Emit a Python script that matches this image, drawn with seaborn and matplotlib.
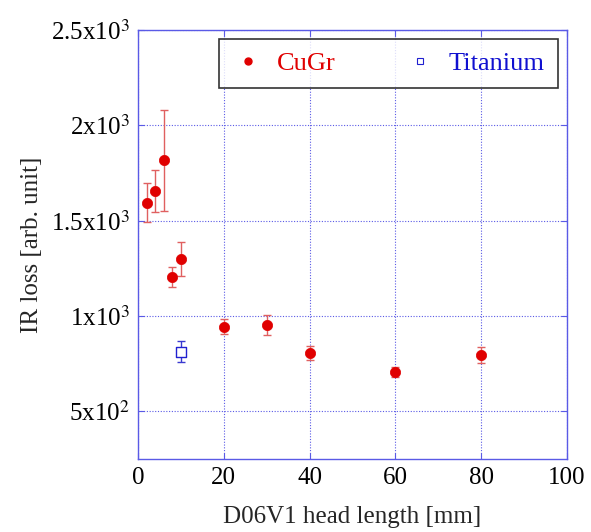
import matplotlib
matplotlib.use("Agg")
import matplotlib.pyplot as plt
import seaborn as sns
import pandas as pd
from matplotlib.lines import Line2D
from matplotlib.ticker import FixedLocator, FixedFormatter

# data
cugr_x = [2, 4, 6, 8, 10, 20, 30, 40, 60, 80]
cugr_y = [1595, 1655, 1818, 1206, 1300, 944, 953, 806, 706, 795]
cugr_err = [103, 112, 265, 52, 88, 40, 51, 39, 25, 42]

ti_x = [10]
ti_y = [813]
ti_err = [54]

y_ticks = [500, 1000, 1500, 2000, 2500]
y_labels = [r"5x10$^{2}$", r"1x10$^{3}$", r"1.5x10$^{3}$", r"2x10$^{3}$", r"2.5x10$^{3}$"]
x_ticks = [0, 20, 40, 60, 80, 100]

sns.set_style("ticks")
plt.rcParams["font.family"] = ["Liberation Serif", "DejaVu Serif"]
plt.rcParams["mathtext.fontset"] = "stix"

axis_blue = "#5a5ae6"

fig = plt.figure(figsize=(5.91, 5.32), dpi=100)
ax = fig.add_axes([0.2335, 0.1372, 0.7259, 0.8064])

df_cu = pd.DataFrame({"x": cugr_x, "y": cugr_y})
df_ti = pd.DataFrame({"x": ti_x, "y": ti_y})

# error bars
ax.errorbar(cugr_x, cugr_y, yerr=cugr_err, fmt="none", ecolor="#e06060",
            elinewidth=1.0, capsize=3, capthick=1.0, zorder=2)
ax.errorbar(ti_x, ti_y, yerr=ti_err, fmt="none", ecolor="#3a3ad0",
            elinewidth=1.0, capsize=3, capthick=1.0, zorder=2)

sns.scatterplot(data=df_cu, x="x", y="y", ax=ax, color="#e00000", marker="o",
                s=55, edgecolor="#e00000", linewidth=0.5, zorder=3, legend=False)
sns.scatterplot(data=df_ti, x="x", y="y", ax=ax, marker="s", s=45,
                facecolor="white", edgecolor="#2020d0", linewidth=1.0,
                zorder=3, legend=False)

ax.set_xlim(0, 100)
ax.set_ylim(250, 2500)
ax.xaxis.set_major_locator(FixedLocator(x_ticks))
ax.yaxis.set_major_locator(FixedLocator(y_ticks))
ax.yaxis.set_major_formatter(FixedFormatter(y_labels))

ax.grid(True, color=axis_blue, linestyle=(0, (1, 1.5)), linewidth=0.8)
for sp in ax.spines.values():
    sp.set_visible(True)
    sp.set_color(axis_blue)
    sp.set_linewidth(1.0)
ax.tick_params(direction="in", colors=axis_blue, labelcolor="black",
               labelsize=18, length=4, pad=6, top=True, right=True)

ax.set_xlabel("D06V1 head length [mm]", fontsize=18, labelpad=12)
ax.set_ylabel("IR loss [arb. unit]", fontsize=18, labelpad=6)

handles = [
    Line2D([], [], linestyle="none", marker="o", markersize=5,
           color="#e00000"),
    Line2D([], [], linestyle="none", marker="s", markersize=5,
           markerfacecolor="white", markeredgecolor="#2020d0",
           markeredgewidth=0.8),
]
leg = ax.legend(handles, ["CuGr", "Titanium"], ncol=2, loc="upper right",
                bbox_to_anchor=(0.979, 0.98), fontsize=19, frameon=True,
                fancybox=False, edgecolor="black", columnspacing=2.6,
                handletextpad=0.5, borderpad=0.5, handlelength=1.2,
                borderaxespad=0.0)
leg.get_frame().set_linewidth(1.2)
leg.get_texts()[0].set_color("#e00000")
leg.get_texts()[1].set_color("#1010d0")

fig.savefig("out.png", dpi=100)
